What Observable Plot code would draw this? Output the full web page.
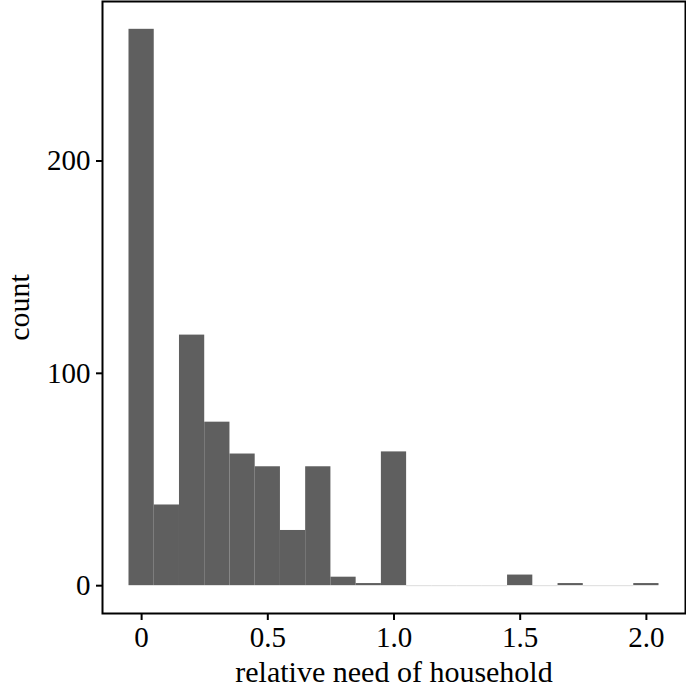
<!DOCTYPE html>
<html>
<head>
<meta charset="utf-8">
<script src="https://cdn.jsdelivr.net/npm/d3@7"></script>
<script src="https://cdn.jsdelivr.net/npm/@observablehq/plot@0.6"></script>
<style>
  html, body { margin: 0; padding: 0; background: #fff; }
  #chart svg { display: block; }
  #chart svg text { font-family: "Liberation Serif", serif !important; fill: #000; font-size: 29px !important; }
  #chart svg g[aria-label="x-axis label"] text,
  #chart svg g[aria-label="y-axis label"] text { font-size: 30px !important; }
  #chart svg [aria-label="frame"],
  #chart svg [aria-label="frame"] rect { stroke-width: 2px !important; stroke: #000 !important; }
  #chart svg g[aria-label$="tick"],
  #chart svg g[aria-label$="tick"] path { stroke-width: 2px !important; stroke: #000 !important; }
</style>
</head>
<body>
<div id="chart"></div>
<script>
// Histogram bins (centers, width 0.1) and counts
const binCenters = [0, 0.1, 0.2, 0.3, 0.4, 0.5, 0.6, 0.7, 0.8, 0.9, 1.0,
                    1.1, 1.2, 1.3, 1.4, 1.5, 1.6, 1.7, 1.8, 1.9, 2.0];
const counts = [262, 38, 118, 77, 62, 56, 26, 56, 4, 1, 63,
                0, 0, 0, 0, 5, 0, 1, 0, 0, 1];
const binWidth = 0.1;
const xTicks = [0, 0.5, 1.0, 1.5, 2.0];
const xTickLabels = ["0", "0.5", "1.0", "1.5", "2.0"];
const yTicks = [0, 100, 200];
const xTitle = "relative need of household";
const yTitle = "count";

const bins = binCenters.map((c, i) => ({
  x1: c - binWidth / 2,
  x2: c + binWidth / 2,
  count: counts[i]
}));

const plot = Plot.plot({
  width: 686,
  height: 689,
  marginLeft: 102,
  marginRight: 1,
  marginTop: 1,
  marginBottom: 76,
  style: {fontSize: "29px", color: "#000", background: "#fff"},
  x: {domain: [-0.155, 2.155]},
  y: {domain: [-13.1, 275.1]},
  marks: [
    Plot.ruleY(bins.filter(d => d.count === 0), {x1: "x1", x2: "x2", y: 0, stroke: "#dcdcdc", strokeWidth: 1}),
    Plot.rectY(bins.filter(d => d.count > 0), {x1: "x1", x2: "x2", y1: 0, y2: "count", fill: "#5f5f5f"}),
    Plot.frame({stroke: "#000", strokeWidth: 2}),
    Plot.axisX({
      ticks: xTicks,
      tickFormat: (d) => xTickLabels[xTicks.indexOf(d)],
      tickSize: 7,
      tickPadding: 6,
      strokeWidth: 2,
      label: xTitle,
      labelAnchor: "center",
      labelArrow: "none",
      labelOffset: 68
    }),
    Plot.axisY({
      ticks: yTicks,
      tickSize: 6,
      tickPadding: 6,
      strokeWidth: 2,
      label: yTitle,
      labelAnchor: "center",
      labelArrow: "none",
      labelOffset: 95
    })
  ]
});
document.getElementById("chart").appendChild(plot);
</script>
</body>
</html>
